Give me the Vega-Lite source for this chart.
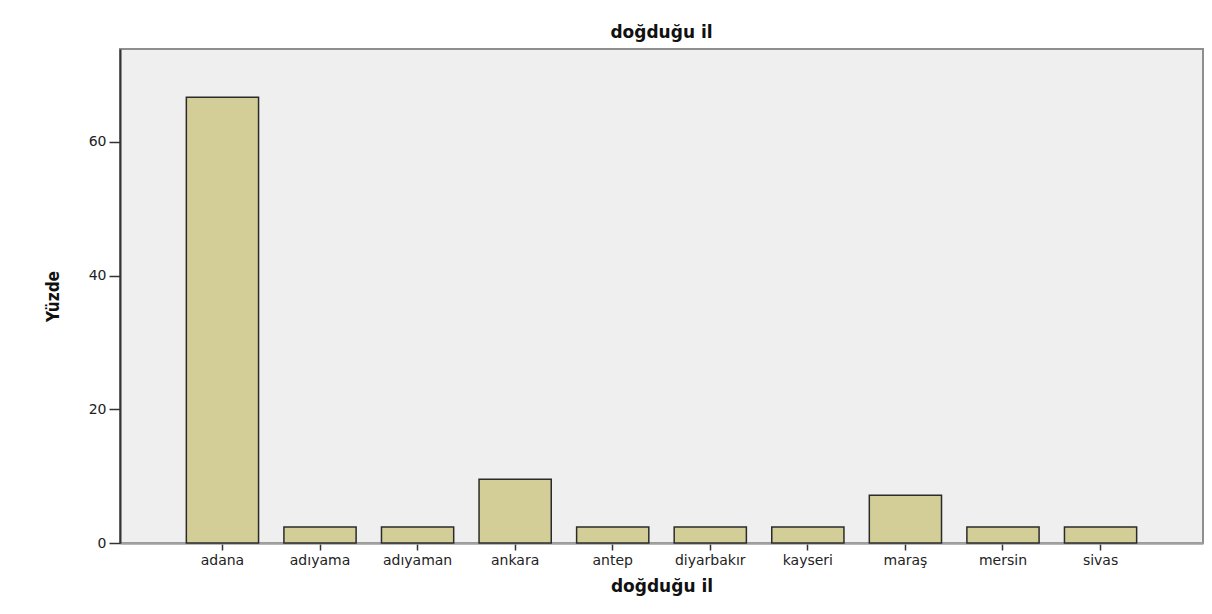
{
  "$schema": "https://vega.github.io/schema/vega-lite/v6.json",
  "width": 1083,
  "height": 494,
  "autosize": "none",
  "padding": {"left": 120, "top": 49, "right": 9, "bottom": 71},
  "background": "white",
  "title": {
    "text": "doğduğu il",
    "font": "DejaVu Sans",
    "fontSize": 17,
    "fontWeight": "bold",
    "color": "#111111",
    "anchor": "middle",
    "offset": 7
  },
  "data": {
    "values": [
      {"il": "adana", "yuzde": 66.67},
      {"il": "adıyama", "yuzde": 2.38},
      {"il": "adıyaman", "yuzde": 2.38},
      {"il": "ankara", "yuzde": 9.52},
      {"il": "antep", "yuzde": 2.38},
      {"il": "diyarbakır", "yuzde": 2.38},
      {"il": "kayseri", "yuzde": 2.38},
      {"il": "maraş", "yuzde": 7.14},
      {"il": "mersin", "yuzde": 2.38},
      {"il": "sivas", "yuzde": 2.38}
    ]
  },
  "mark": {"type": "bar", "fill": "#d3ce97", "stroke": "#2b2b2b", "strokeWidth": 1.5},
  "encoding": {
    "x": {
      "field": "il",
      "type": "nominal",
      "sort": null,
      "scale": {"paddingInner": 0.26, "paddingOuter": 0.68},
      "axis": {
        "title": "doğduğu il",
        "titleFont": "DejaVu Sans",
        "titleFontSize": 17,
        "titleFontWeight": "bold",
        "titleColor": "#111111",
        "titlePadding": 11,
        "labelAngle": 0,
        "labelFont": "DejaVu Sans",
        "labelFontSize": 14,
        "labelColor": "#222222",
        "labelPadding": 3,
        "tickSize": 7,
        "tickColor": "#333333",
        "tickWidth": 1.5,
        "domainColor": "#a0a0a0",
        "domainWidth": 2.5,
        "grid": false
      }
    },
    "y": {
      "field": "yuzde",
      "type": "quantitative",
      "scale": {"domain": [0, 73.9], "nice": false, "zero": true},
      "axis": {
        "title": "Yüzde",
        "titleFont": "DejaVu Sans Condensed, Liberation Sans Narrow, DejaVu Sans",
        "titleFontSize": 17,
        "titleFontWeight": "bold",
        "titleColor": "#111111",
        "titlePadding": 26,
        "values": [0, 20, 40, 60],
        "labelFont": "DejaVu Sans",
        "labelFontSize": 14,
        "labelColor": "#222222",
        "labelPadding": 3,
        "tickSize": 11,
        "tickColor": "#333333",
        "tickWidth": 1.5,
        "domainColor": "#333333",
        "domainWidth": 2,
        "grid": false
      }
    }
  },
  "config": {
    "view": {"fill": "#efefef", "stroke": "#8e8e8e", "strokeWidth": 2}
  }
}
